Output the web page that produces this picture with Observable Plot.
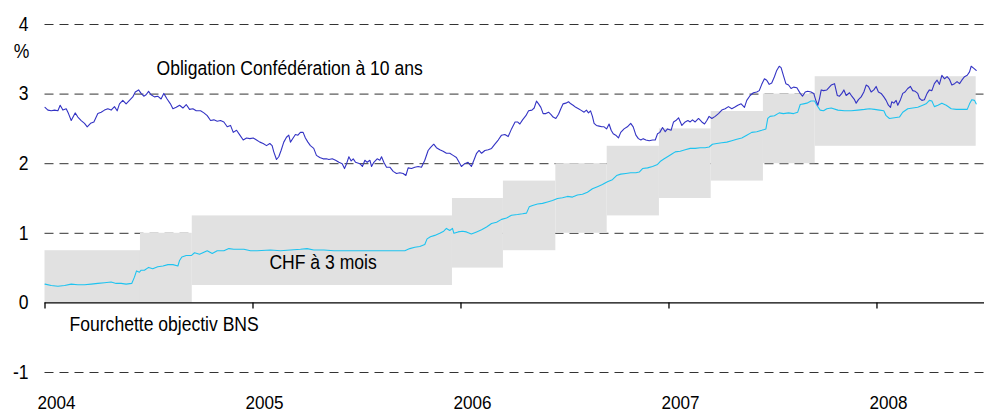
<!DOCTYPE html>
<html>
<head>
<meta charset="utf-8">
<script src="https://cdn.jsdelivr.net/npm/d3@7"></script>
<script src="https://cdn.jsdelivr.net/npm/@observablehq/plot@0.6"></script>
<style>
  html, body { margin: 0; padding: 0; background: #fff; }
  #chart svg { display: block; }
</style>
</head>
<body>
<div id="chart"></div>
<script>
// ---- Data (decimal years) ----
const yearTicks = [2004, 2005, 2006, 2007, 2008];
const yTicks = [-1, 0, 1, 2, 3, 4];
const gridValues = [4, 3, 2, 1, -1];

// SNB target range (Fourchette objectiv BNS)
const bandStart = [2004.000, 2004.459, 2004.708, 2005.959, 2006.204, 2006.456, 2006.703, 2006.954, 2007.203, 2007.454, 2007.703];
const bandEnd   = [2004.459, 2004.708, 2005.959, 2006.204, 2006.456, 2006.703, 2006.954, 2007.203, 2007.454, 2007.703, 2008.477];
const bandLow   = [0, 0, 0.25, 0.5, 0.75, 1.0, 1.25, 1.5, 1.75, 2.0, 2.25];
const bandHigh  = [0.75, 1.0, 1.25, 1.5, 1.75, 2.0, 2.25, 2.5, 2.75, 3.0, 3.25];

// Obligation Confédération à 10 ans  [year, %]
const bond10y = [
[2004.000,2.81],[2004.014,2.77],[2004.030,2.76],[2004.046,2.77],[2004.062,2.76],[2004.073,2.84],[2004.086,2.77],[2004.102,2.79],[2004.113,2.72],[2004.126,2.62],[2004.145,2.73],[2004.158,2.67],[2004.174,2.62],[2004.190,2.58],[2004.203,2.53],[2004.219,2.58],[2004.235,2.60],[2004.254,2.72],[2004.270,2.74],[2004.286,2.77],[2004.302,2.79],[2004.318,2.77],[2004.334,2.82],[2004.347,2.76],[2004.358,2.86],[2004.374,2.91],[2004.390,2.86],[2004.406,2.91],[2004.422,2.96],[2004.434,3.03],[2004.450,3.06],[2004.462,3.01],[2004.475,2.97],[2004.486,2.99],[2004.498,3.04],[2004.510,2.99],[2004.526,2.96],[2004.542,2.97],[2004.558,2.93],[2004.571,3.01],[2004.587,2.93],[2004.603,2.86],[2004.615,2.79],[2004.631,2.81],[2004.647,2.84],[2004.663,2.80],[2004.679,2.85],[2004.695,2.78],[2004.711,2.79],[2004.727,2.76],[2004.748,2.76],
[2004.764,2.73],[2004.780,2.69],[2004.796,2.62],[2004.812,2.63],[2004.828,2.61],[2004.844,2.62],[2004.860,2.60],[2004.876,2.53],[2004.892,2.55],[2004.905,2.45],[2004.921,2.48],[2004.937,2.41],[2004.953,2.34],[2004.969,2.37],[2004.985,2.36],[2005.001,2.37],[2005.017,2.34],[2005.033,2.31],[2005.049,2.29],[2005.065,2.26],[2005.081,2.29],[2005.092,2.26],[2005.100,2.17],[2005.113,2.06],[2005.124,2.10],[2005.135,2.19],[2005.148,2.31],[2005.161,2.38],[2005.172,2.41],[2005.180,2.31],[2005.193,2.37],[2005.204,2.42],[2005.216,2.41],[2005.228,2.45],[2005.241,2.45],[2005.252,2.37],[2005.264,2.31],[2005.276,2.26],[2005.292,2.22],[2005.305,2.12],[2005.321,2.09],[2005.337,2.07],[2005.353,2.07],[2005.365,2.06],[2005.381,2.07],[2005.397,2.05],[2005.413,2.02],[2005.429,2.00],[2005.440,1.93],[2005.450,2.00],[2005.461,2.10],[2005.472,2.04],[2005.482,2.07],[2005.493,2.02],
[2005.514,2.00],[2005.526,1.96],[2005.538,2.05],[2005.549,2.02],[2005.562,2.05],[2005.570,1.96],[2005.581,2.02],[2005.597,2.07],[2005.610,2.05],[2005.618,2.10],[2005.629,2.02],[2005.642,1.95],[2005.658,1.95],[2005.674,1.89],[2005.690,1.86],[2005.706,1.87],[2005.722,1.86],[2005.735,1.83],[2005.746,1.94],[2005.762,1.93],[2005.778,1.95],[2005.794,1.96],[2005.810,1.95],[2005.826,2.05],[2005.842,2.19],[2005.853,2.23],[2005.869,2.28],[2005.882,2.23],[2005.898,2.20],[2005.914,2.18],[2005.930,2.15],[2005.946,2.15],[2005.962,2.12],[2005.978,2.09],[2005.991,2.02],[2006.002,1.96],[2006.018,2.00],[2006.034,2.02],[2006.050,1.96],[2006.062,2.05],[2006.075,2.15],[2006.087,2.19],[2006.099,2.15],[2006.115,2.19],[2006.131,2.20],[2006.147,2.22],[2006.163,2.28],[2006.179,2.34],[2006.195,2.41],[2006.211,2.42],[2006.227,2.39],[2006.243,2.50],
[2006.260,2.60],[2006.272,2.60],[2006.283,2.57],[2006.296,2.63],[2006.312,2.69],[2006.325,2.76],[2006.341,2.77],[2006.352,2.80],[2006.363,2.90],[2006.373,2.86],[2006.384,2.81],[2006.395,2.72],[2006.408,2.72],[2006.421,2.74],[2006.432,2.71],[2006.443,2.67],[2006.456,2.65],[2006.469,2.71],[2006.480,2.79],[2006.491,2.86],[2006.504,2.87],[2006.517,2.89],[2006.528,2.86],[2006.539,2.84],[2006.552,2.81],[2006.565,2.79],[2006.576,2.77],[2006.592,2.74],[2006.603,2.77],[2006.613,2.73],[2006.623,2.76],[2006.632,2.68],[2006.640,2.58],[2006.651,2.55],[2006.664,2.54],[2006.677,2.53],[2006.688,2.53],[2006.700,2.50],[2006.712,2.57],[2006.722,2.48],[2006.732,2.43],[2006.744,2.41],[2006.757,2.37],[2006.768,2.45],[2006.784,2.50],[2006.800,2.53],[2006.816,2.58],[2006.828,2.53],[2006.841,2.41],[2006.853,2.36],[2006.865,2.34],[2006.876,2.36],[2006.889,2.34],[2006.905,2.33],[2006.921,2.34],[2006.934,2.34],[2006.945,2.43],[2006.956,2.45],[2006.969,2.52],[2006.982,2.46],[2006.993,2.50],
[2007.010,2.48],[2007.022,2.60],[2007.033,2.62],[2007.046,2.66],[2007.062,2.55],[2007.078,2.60],[2007.091,2.62],[2007.102,2.60],[2007.113,2.63],[2007.126,2.60],[2007.142,2.65],[2007.158,2.60],[2007.171,2.57],[2007.182,2.62],[2007.193,2.68],[2007.206,2.65],[2007.222,2.68],[2007.238,2.72],[2007.254,2.77],[2007.270,2.79],[2007.286,2.82],[2007.302,2.79],[2007.315,2.81],[2007.331,2.84],[2007.347,2.86],[2007.363,2.81],[2007.374,2.91],[2007.390,2.98],[2007.406,3.02],[2007.422,3.03],[2007.434,3.05],[2007.446,3.14],[2007.459,3.22],[2007.470,3.20],[2007.482,3.14],[2007.494,3.16],[2007.507,3.25],[2007.518,3.34],[2007.530,3.40],[2007.539,3.38],[2007.550,3.27],[2007.562,3.15],[2007.575,3.13],[2007.587,3.08],[2007.599,3.10],[2007.615,3.09],[2007.631,3.01],[2007.642,2.97],[2007.655,3.03],[2007.667,3.04],[2007.683,3.03],[2007.696,3.01],[2007.706,2.91],[2007.716,2.84],[2007.724,2.94],[2007.732,3.06],[2007.743,3.05],[2007.759,3.06],
[2007.780,3.13],[2007.796,3.15],[2007.809,2.98],[2007.820,2.97],[2007.831,3.01],[2007.841,3.06],[2007.852,2.98],[2007.868,3.02],[2007.879,2.97],[2007.892,2.92],[2007.900,2.87],[2007.911,2.92],[2007.924,2.96],[2007.937,3.03],[2007.948,3.13],[2007.959,3.11],[2007.972,3.03],[2007.985,3.06],[2007.996,3.11],[2008.007,3.03],[2008.020,3.01],[2008.033,2.96],[2008.044,2.91],[2008.055,2.84],[2008.065,2.81],[2008.071,2.89],[2008.081,2.87],[2008.092,2.91],[2008.100,2.84],[2008.113,2.92],[2008.124,3.01],[2008.135,3.03],[2008.148,3.08],[2008.161,3.11],[2008.172,3.05],[2008.184,3.04],[2008.196,3.01],[2008.204,2.94],[2008.216,2.91],[2008.228,2.92],[2008.241,3.01],[2008.252,3.06],[2008.264,3.05],[2008.276,3.15],[2008.289,3.20],[2008.300,3.14],[2008.312,3.27],[2008.325,3.22],[2008.337,3.25],[2008.349,3.21],[2008.360,3.13],[2008.373,3.15],[2008.385,3.18],[2008.397,3.15],[2008.408,3.20],[2008.421,3.25],[2008.434,3.27],[2008.445,3.32],[2008.453,3.40],[2008.466,3.37],[2008.477,3.34]
];

// CHF à 3 mois  [year, %]
const libor3m = [
[2004.000,0.27],[2004.030,0.25],[2004.062,0.24],[2004.094,0.25],[2004.126,0.27],[2004.158,0.26],[2004.190,0.26],[2004.222,0.27],[2004.254,0.28],[2004.286,0.29],[2004.318,0.30],[2004.342,0.28],[2004.366,0.28],[2004.390,0.27],[2004.417,0.28],[2004.430,0.37],[2004.440,0.46],[2004.454,0.44],[2004.462,0.47],[2004.478,0.47],[2004.498,0.51],[2004.518,0.49],[2004.542,0.52],[2004.567,0.53],[2004.591,0.55],[2004.615,0.55],[2004.639,0.53],[2004.647,0.61],[2004.658,0.66],[2004.679,0.68],[2004.703,0.68],[2004.719,0.72],[2004.743,0.70],[2004.780,0.75],[2004.804,0.71],[2004.828,0.75],[2004.860,0.75],[2004.884,0.78],[2004.908,0.77],[2004.956,0.77],[2004.988,0.75],[2005.020,0.75],[2005.084,0.76],[2005.132,0.75],[2005.180,0.76],[2005.228,0.77],[2005.260,0.78],[2005.292,0.76],[2005.341,0.76],[2005.389,0.75],[2005.453,0.75],[2005.562,0.75],[2005.626,0.75],[2005.690,0.75],[2005.730,0.75],[2005.754,0.78],[2005.778,0.80],[2005.802,0.81],[2005.826,0.84],[2005.837,0.92],[2005.853,0.95],[2005.874,0.97],[2005.898,1.00],[2005.917,1.03],[2005.930,1.07],[2005.946,1.04],[2005.959,1.07],[2005.966,1.00],[2005.986,1.02],[2006.007,1.03],[2006.026,1.02],[2006.050,0.99],[2006.075,1.02],[2006.099,1.05],[2006.123,1.09],[2006.147,1.14],[2006.171,1.16],[2006.195,1.20],[2006.219,1.22],[2006.243,1.26],[2006.272,1.27],[2006.296,1.28],[2006.315,1.29],[2006.328,1.38],[2006.344,1.40],[2006.368,1.42],[2006.392,1.43],[2006.416,1.45],[2006.440,1.47],[2006.464,1.50],[2006.488,1.51],[2006.512,1.53],[2006.536,1.52],[2006.560,1.55],[2006.584,1.56],[2006.608,1.59],[2006.632,1.64],[2006.656,1.67],[2006.680,1.70],[2006.704,1.74],[2006.728,1.77],[2006.748,1.83],[2006.768,1.85],[2006.793,1.86],[2006.816,1.87],[2006.841,1.87],[2006.857,1.88],[2006.873,1.93],[2006.897,1.94],[2006.921,1.96],[2006.945,1.99],[2006.961,2.04],[2006.977,2.07],[2006.993,2.10],[2007.014,2.14],[2007.030,2.17],[2007.054,2.18],[2007.078,2.20],[2007.102,2.22],[2007.126,2.22],[2007.150,2.23],[2007.174,2.23],[2007.193,2.24],[2007.209,2.28],[2007.230,2.29],[2007.254,2.30],[2007.278,2.31],[2007.302,2.33],[2007.326,2.35],[2007.350,2.37],[2007.374,2.41],[2007.398,2.45],[2007.422,2.46],[2007.446,2.48],[2007.466,2.50],[2007.475,2.65],[2007.486,2.68],[2007.507,2.69],[2007.530,2.73],[2007.550,2.72],[2007.575,2.73],[2007.599,2.72],[2007.619,2.74],[2007.631,2.85],[2007.647,2.86],[2007.663,2.87],[2007.683,2.90],[2007.700,2.90],[2007.711,2.84],[2007.727,2.77],[2007.743,2.76],[2007.759,2.79],[2007.780,2.80],[2007.812,2.77],[2007.844,2.76],[2007.876,2.76],[2007.908,2.77],[2007.940,2.78],[2007.964,2.79],[2007.988,2.78],[2008.012,2.77],[2008.033,2.76],[2008.044,2.69],[2008.060,2.65],[2008.084,2.66],[2008.108,2.67],[2008.124,2.74],[2008.148,2.79],[2008.172,2.80],[2008.196,2.81],[2008.220,2.84],[2008.236,2.86],[2008.252,2.91],[2008.264,2.90],[2008.276,2.82],[2008.293,2.84],[2008.312,2.87],[2008.333,2.84],[2008.357,2.79],[2008.381,2.78],[2008.405,2.78],[2008.434,2.78],[2008.445,2.86],[2008.456,2.92],[2008.469,2.91],[2008.477,2.86]
];

// Annotations
const annotLabels = ["Obligation Confédération à 10 ans", "CHF à 3 mois", "Fourchette objectiv BNS"];
const annotX = [2004.536, 2005.079, 2004.118];
const annotY = [3.37, 0.57, -0.32];

// ---- Build tables ----
const bands = bandStart.map((s, i) => ({x1: s, x2: bandEnd[i], y1: bandLow[i], y2: bandHigh[i]}));
const annots = annotLabels.map((t, i) => ({t, x: annotX[i], y: annotY[i]}));
const fmt = d => String(d);

const chart = Plot.plot({
  width: 984,
  height: 412,
  marginLeft: 44.5,
  marginRight: 0,
  marginTop: 24,
  marginBottom: 40,
  x: {type: "linear", domain: [2004, 2008.517]},
  y: {domain: [-1, 4]},
  style: {
    fontFamily: "'Liberation Sans', Arial, sans-serif",
    fontSize: "19.5px",
    color: "#000",
    background: "#fff"
  },
  marks: [
    Plot.ruleY(gridValues, {stroke: "#333", strokeDasharray: "9,6", strokeWidth: 1}),
    Plot.rect(bands, {x1: "x1", x2: "x2", y1: "y1", y2: "y2", fill: "#e1e1e1"}),
    Plot.ruleY([0], {stroke: "#000", strokeWidth: 1.3}),
    Plot.ruleX(yearTicks, {x: d => d, y1: 0, y2: 0, insetBottom: -6, stroke: "#000", strokeWidth: 1.3}),
    Plot.line(libor3m, {x: d => d[0], y: d => d[1], stroke: "#1ec3f0", strokeWidth: 1.1}),
    Plot.line(bond10y, {x: d => d[0], y: d => d[1], stroke: "#3333c4", strokeWidth: 1.1}),
    Plot.text(annots, {x: "x", y: "y", text: "t", textAnchor: "start", lineAnchor: "middle", fill: "#000"}),
    Plot.axisX({ticks: yearTicks, tickSize: 0, tickPadding: 22.5, dx: 11.5, fontSize: 19, tickFormat: fmt, label: null}),
    Plot.axisY({ticks: yTicks, tickSize: 0, tickPadding: 16.5, tickFormat: fmt, label: null}),
    Plot.text(["%"], {frameAnchor: "top-left", dx: -23.5, dy: 27, text: d => d, textAnchor: "middle", lineAnchor: "middle", fill: "#000"})
  ]
});

// The reference typeface is slightly condensed: narrow every label around its anchor point.
const SX = 0.9;
chart.querySelectorAll("text").forEach(t => {
  const xa = t.getAttribute("x");
  if (xa !== null && !isNaN(+xa)) t.setAttribute("x", (+xa) / SX);
  const tr = t.getAttribute("transform") || "";
  t.setAttribute("transform", (tr + ` scale(${SX},1)`).trim());
});

document.getElementById("chart").appendChild(chart);
</script>
</body>
</html>
